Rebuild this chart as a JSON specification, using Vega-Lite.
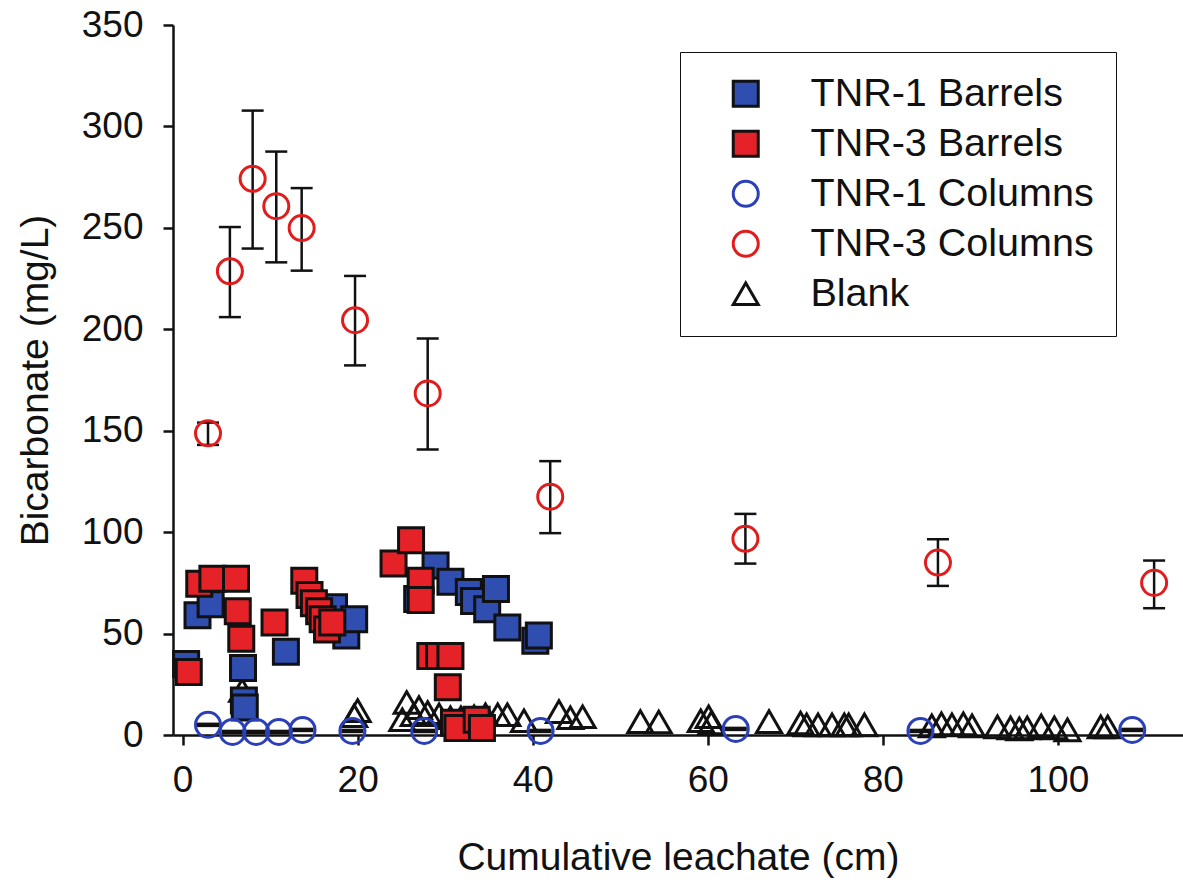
{
  "$schema": "https://vega.github.io/schema/vega-lite/v6.json",
  "width": 1010,
  "height": 710,
  "autosize": "none",
  "padding": {"left": 173, "top": 25, "right": 0, "bottom": 147},
  "background": "white",
  "config": {
    "view": {"stroke": null},
    "font": "Liberation Sans",
    "axis": {
      "domainColor": "#111",
      "domainWidth": 2.5,
      "tickColor": "#111",
      "tickWidth": 2.5,
      "tickSize": 10,
      "grid": false,
      "labelColor": "#111",
      "labelFont": "Liberation Sans",
      "labelFontSize": 37,
      "titleColor": "#111",
      "titleFont": "Liberation Sans",
      "titleFontSize": 39,
      "titleFontWeight": "normal"
    }
  },
  "datasets": {
    "bicarb": [
      {"series": "Blank", "x": 6.8, "y": 22},
      {"series": "Blank", "x": 19.6, "y": 9.5},
      {"series": "Blank", "x": 20.0, "y": 12},
      {"series": "Blank", "x": 25.1, "y": 7.5},
      {"series": "Blank", "x": 25.6, "y": 16},
      {"series": "Blank", "x": 26.4, "y": 10},
      {"series": "Blank", "x": 27.0, "y": 13.5},
      {"series": "Blank", "x": 28.0, "y": 11},
      {"series": "Blank", "x": 29.3, "y": 10},
      {"series": "Blank", "x": 30.6, "y": 8.5},
      {"series": "Blank", "x": 31.8, "y": 8.5},
      {"series": "Blank", "x": 33.3, "y": 9},
      {"series": "Blank", "x": 34.6, "y": 10},
      {"series": "Blank", "x": 36.0, "y": 10},
      {"series": "Blank", "x": 37.1, "y": 10},
      {"series": "Blank", "x": 39.0, "y": 7},
      {"series": "Blank", "x": 43.0, "y": 11.5},
      {"series": "Blank", "x": 44.3, "y": 8.5},
      {"series": "Blank", "x": 45.7, "y": 9},
      {"series": "Blank", "x": 52.3, "y": 6.6},
      {"series": "Blank", "x": 54.4, "y": 6.4},
      {"series": "Blank", "x": 59.2, "y": 7},
      {"series": "Blank", "x": 60.1, "y": 9},
      {"series": "Blank", "x": 60.4, "y": 6},
      {"series": "Blank", "x": 67.0, "y": 6.6},
      {"series": "Blank", "x": 70.6, "y": 5.9},
      {"series": "Blank", "x": 71.3, "y": 5},
      {"series": "Blank", "x": 72.6, "y": 5},
      {"series": "Blank", "x": 74.2, "y": 5},
      {"series": "Blank", "x": 75.6, "y": 5},
      {"series": "Blank", "x": 76.1, "y": 5},
      {"series": "Blank", "x": 77.9, "y": 5},
      {"series": "Blank", "x": 85.6, "y": 4.5},
      {"series": "Blank", "x": 86.7, "y": 5.5},
      {"series": "Blank", "x": 87.9, "y": 5},
      {"series": "Blank", "x": 89.2, "y": 5.5},
      {"series": "Blank", "x": 90.2, "y": 4.5},
      {"series": "Blank", "x": 93.1, "y": 4},
      {"series": "Blank", "x": 94.6, "y": 3.5},
      {"series": "Blank", "x": 95.6, "y": 3},
      {"series": "Blank", "x": 96.5, "y": 3.5},
      {"series": "Blank", "x": 98.1, "y": 4.5},
      {"series": "Blank", "x": 99.6, "y": 3.5},
      {"series": "Blank", "x": 101.1, "y": 2.5},
      {"series": "Blank", "x": 104.9, "y": 4},
      {"series": "Blank", "x": 105.7, "y": 4},

      {"series": "TNR-1 Barrels", "x": 0.4, "y": 35},
      {"series": "TNR-1 Barrels", "x": 1.7, "y": 59},
      {"series": "TNR-1 Barrels", "x": 3.2, "y": 64.5},
      {"series": "TNR-1 Barrels", "x": 6.9, "y": 33},
      {"series": "TNR-1 Barrels", "x": 7.0, "y": 17},
      {"series": "TNR-1 Barrels", "x": 7.1, "y": 13.5},
      {"series": "TNR-1 Barrels", "x": 11.8, "y": 41},
      {"series": "TNR-1 Barrels", "x": 17.3, "y": 63},
      {"series": "TNR-1 Barrels", "x": 18.7, "y": 49},
      {"series": "TNR-1 Barrels", "x": 19.6, "y": 57},
      {"series": "TNR-1 Barrels", "x": 26.8, "y": 67},
      {"series": "TNR-1 Barrels", "x": 28.9, "y": 83.5},
      {"series": "TNR-1 Barrels", "x": 30.6, "y": 75.5},
      {"series": "TNR-1 Barrels", "x": 32.7, "y": 70.5},
      {"series": "TNR-1 Barrels", "x": 33.3, "y": 66},
      {"series": "TNR-1 Barrels", "x": 34.8, "y": 62},
      {"series": "TNR-1 Barrels", "x": 35.8, "y": 72},
      {"series": "TNR-1 Barrels", "x": 37.1, "y": 53},
      {"series": "TNR-1 Barrels", "x": 40.3, "y": 46.5},
      {"series": "TNR-1 Barrels", "x": 40.7, "y": 49},

      {"series": "TNR-3 Barrels", "x": 0.7, "y": 31},
      {"series": "TNR-3 Barrels", "x": 1.9, "y": 74.5},
      {"series": "TNR-3 Barrels", "x": 3.4, "y": 77},
      {"series": "TNR-3 Barrels", "x": 6.1, "y": 77},
      {"series": "TNR-3 Barrels", "x": 6.3, "y": 61},
      {"series": "TNR-3 Barrels", "x": 6.7, "y": 47.5},
      {"series": "TNR-3 Barrels", "x": 10.5, "y": 55.5},
      {"series": "TNR-3 Barrels", "x": 13.9, "y": 76},
      {"series": "TNR-3 Barrels", "x": 14.5, "y": 69},
      {"series": "TNR-3 Barrels", "x": 15.0, "y": 65},
      {"series": "TNR-3 Barrels", "x": 15.6, "y": 61},
      {"series": "TNR-3 Barrels", "x": 16.0, "y": 57},
      {"series": "TNR-3 Barrels", "x": 16.5, "y": 52},
      {"series": "TNR-3 Barrels", "x": 17.1, "y": 55.5},
      {"series": "TNR-3 Barrels", "x": 24.1, "y": 84.5},
      {"series": "TNR-3 Barrels", "x": 26.1, "y": 96},
      {"series": "TNR-3 Barrels", "x": 27.2, "y": 76},
      {"series": "TNR-3 Barrels", "x": 27.2, "y": 66.5},
      {"series": "TNR-3 Barrels", "x": 28.3, "y": 39},
      {"series": "TNR-3 Barrels", "x": 29.3, "y": 39},
      {"series": "TNR-3 Barrels", "x": 30.6, "y": 39},
      {"series": "TNR-3 Barrels", "x": 30.3, "y": 23.5},
      {"series": "TNR-3 Barrels", "x": 31.0, "y": 6},
      {"series": "TNR-3 Barrels", "x": 31.4, "y": 3.5},
      {"series": "TNR-3 Barrels", "x": 33.6, "y": 7.5},
      {"series": "TNR-3 Barrels", "x": 34.2, "y": 3.5},

      {"series": "TNR-1 Columns", "x": 2.9, "y": 5, "lo": 4.5, "hi": 5.5},
      {"series": "TNR-1 Columns", "x": 5.7, "y": 1.5, "lo": 1, "hi": 2},
      {"series": "TNR-1 Columns", "x": 8.4, "y": 1.5, "lo": 1, "hi": 2},
      {"series": "TNR-1 Columns", "x": 11.0, "y": 1.5, "lo": 1, "hi": 2},
      {"series": "TNR-1 Columns", "x": 13.7, "y": 2.5, "lo": 2, "hi": 3},
      {"series": "TNR-1 Columns", "x": 19.4, "y": 2, "lo": 1.5, "hi": 2.5},
      {"series": "TNR-1 Columns", "x": 27.6, "y": 2, "lo": 1.5, "hi": 2.5},
      {"series": "TNR-1 Columns", "x": 40.9, "y": 2, "lo": 1.5, "hi": 2.5},
      {"series": "TNR-1 Columns", "x": 63.2, "y": 3, "lo": 2.5, "hi": 3.5},
      {"series": "TNR-1 Columns", "x": 84.3, "y": 2, "lo": 1.5, "hi": 2.5},
      {"series": "TNR-1 Columns", "x": 108.5, "y": 2.5, "lo": 2, "hi": 3},

      {"series": "TNR-3 Columns", "x": 2.9, "y": 148.7, "lo": 143, "hi": 154},
      {"series": "TNR-3 Columns", "x": 5.4, "y": 228.6, "lo": 206, "hi": 250.4},
      {"series": "TNR-3 Columns", "x": 8.0, "y": 274.2, "lo": 239.8, "hi": 307.8},
      {"series": "TNR-3 Columns", "x": 10.7, "y": 260.7, "lo": 233, "hi": 287.6},
      {"series": "TNR-3 Columns", "x": 13.6, "y": 249.9, "lo": 228.9, "hi": 269.6},
      {"series": "TNR-3 Columns", "x": 19.7, "y": 204.5, "lo": 182.2, "hi": 226.3},
      {"series": "TNR-3 Columns", "x": 28.0, "y": 168.4, "lo": 140.8, "hi": 195.5},
      {"series": "TNR-3 Columns", "x": 42.0, "y": 117.5, "lo": 99.5, "hi": 135},
      {"series": "TNR-3 Columns", "x": 64.3, "y": 96.7, "lo": 84.5, "hi": 109},
      {"series": "TNR-3 Columns", "x": 86.3, "y": 85, "lo": 73.5, "hi": 96.5},
      {"series": "TNR-3 Columns", "x": 111.0, "y": 75, "lo": 62.5, "hi": 86}
    ]
  },
  "data": {"name": "bicarb"},
  "encoding": {
    "x": {
      "field": "x",
      "type": "quantitative",
      "scale": {"domain": [-1.1, 114.3], "nice": false, "zero": false},
      "axis": {
        "values": [0, 20, 40, 60, 80, 100],
        "labelPadding": 17,
        "titlePadding": 40,
        "title": "Cumulative leachate (cm)"
      }
    }
  },
  "layer": [
    {
      "transform": [{"filter": "isValid(datum.lo)"}],
      "mark": {"type": "rule", "color": "#111", "strokeWidth": 2.5},
      "encoding": {
        "y": {"field": "lo", "type": "quantitative", "scale": {"domain": [0, 350], "nice": false}},
        "y2": {"field": "hi"}
      }
    },
    {
      "transform": [{"filter": "isValid(datum.lo)"}],
      "mark": {"type": "tick", "orient": "horizontal", "color": "#111", "size": 22, "thickness": 2.5, "opacity": 1},
      "encoding": {
        "y": {"field": "lo", "type": "quantitative", "scale": {"domain": [0, 350], "nice": false}}
      }
    },
    {
      "transform": [{"filter": "isValid(datum.hi)"}],
      "mark": {"type": "tick", "orient": "horizontal", "color": "#111", "size": 22, "thickness": 2.5, "opacity": 1},
      "encoding": {
        "y": {"field": "hi", "type": "quantitative", "scale": {"domain": [0, 350], "nice": false}}
      }
    },
    {
      "mark": {"type": "point", "strokeWidth": 3, "opacity": 1},
      "encoding": {
        "y": {
          "field": "y",
          "type": "quantitative",
          "scale": {"domain": [0, 350], "nice": false},
          "axis": {
            "values": [0, 50, 100, 150, 200, 250, 300, 350],
            "labelPadding": 20,
            "titlePadding": 26,
            "title": "Bicarbonate (mg/L)"
          }
        },
        "shape": {
          "field": "series",
          "type": "nominal",
          "scale": {
            "domain": ["TNR-1 Barrels", "TNR-3 Barrels", "TNR-1 Columns", "TNR-3 Columns", "Blank"],
            "range": ["square", "square", "circle", "circle", "triangle-up"]
          },
          "legend": {
            "orient": "none",
            "legendX": 507,
            "legendY": 27,
            "title": null,
            "padding": 22,
            "fillColor": "white",
            "strokeColor": "#111",
            "labelFont": "Liberation Sans",
            "labelFontSize": 39.5,
            "labelColor": "#111",
            "labelLimit": 500,
            "rowPadding": 9,
            "symbolOffset": 24,
            "labelOffset": 45,
            "symbolStrokeWidth": 3,
            "symbolOpacity": 1
          }
        },
        "fill": {
          "field": "series",
          "type": "nominal",
          "scale": {
            "domain": ["TNR-1 Barrels", "TNR-3 Barrels", "TNR-1 Columns", "TNR-3 Columns", "Blank"],
            "range": ["#2f4eb0", "#e42228", "transparent", "transparent", "transparent"]
          }
        },
        "stroke": {
          "field": "series",
          "type": "nominal",
          "scale": {
            "domain": ["TNR-1 Barrels", "TNR-3 Barrels", "TNR-1 Columns", "TNR-3 Columns", "Blank"],
            "range": ["#111111", "#111111", "#2a3fb8", "#e01c1c", "#111111"]
          }
        },
        "size": {
          "field": "series",
          "type": "nominal",
          "scale": {
            "domain": ["TNR-1 Barrels", "TNR-3 Barrels", "TNR-1 Columns", "TNR-3 Columns", "Blank"],
            "range": [625, 625, 470, 470, 300]
          }
        }
      }
    }
  ],
  "resolve": {"scale": {"y": "shared"}}
}
